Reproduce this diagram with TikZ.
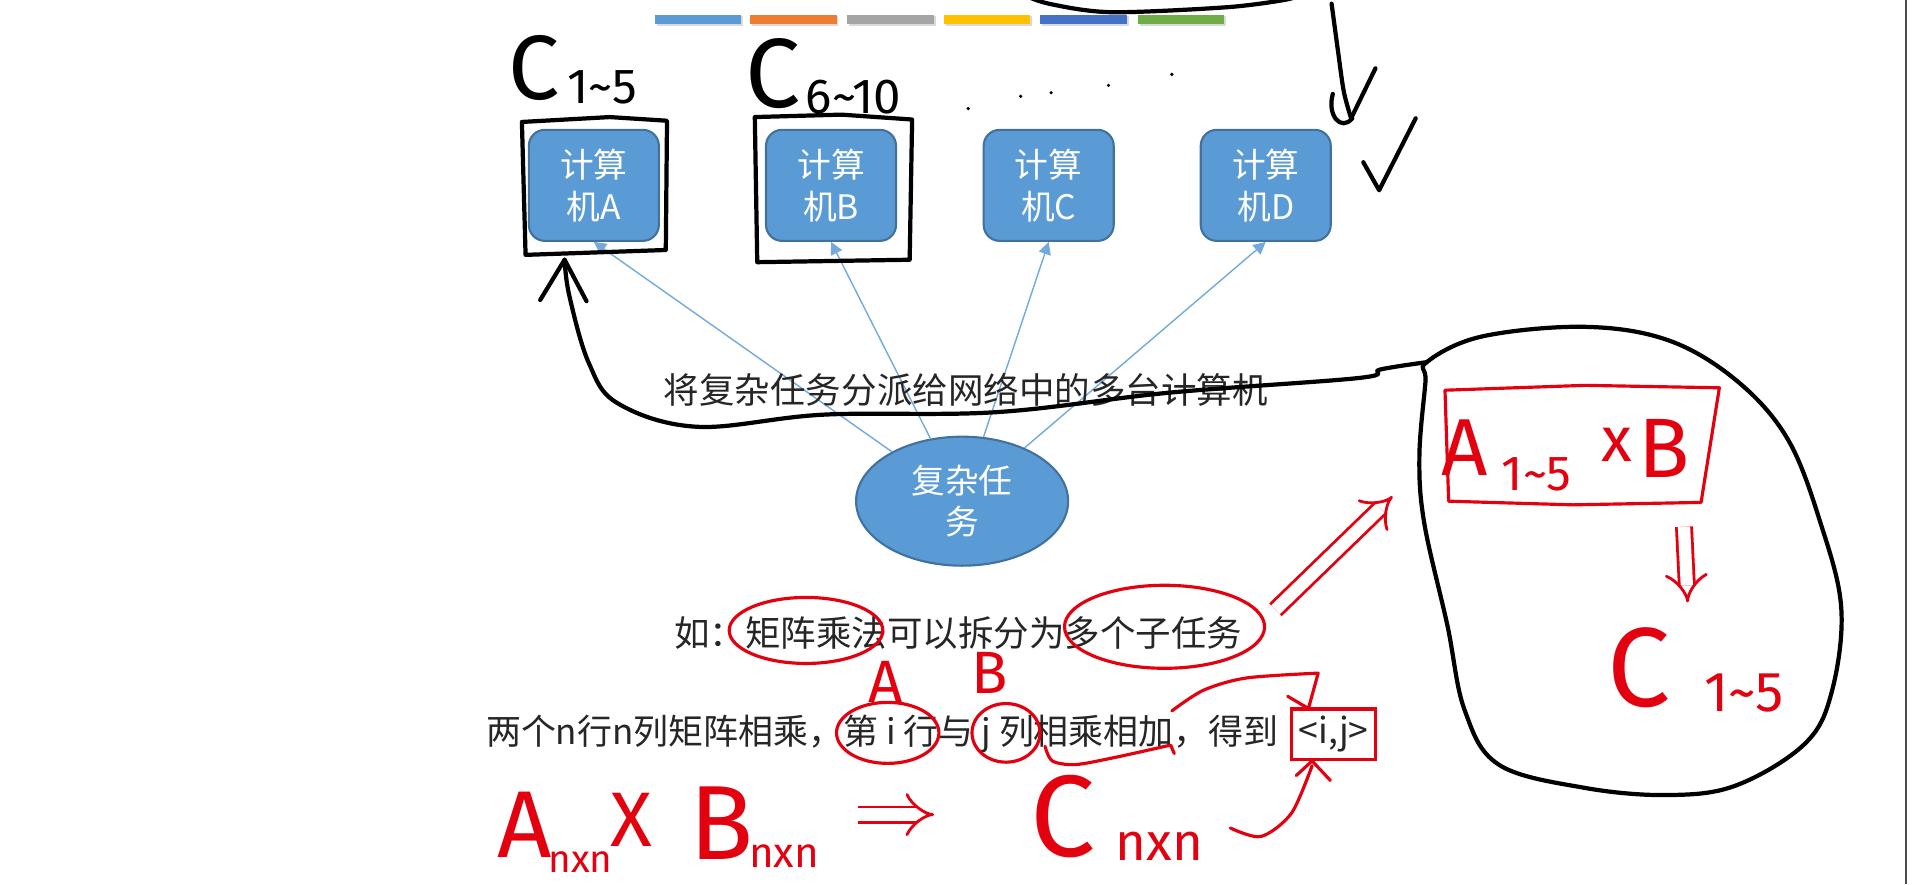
\documentclass[tikz,border=0pt]{standalone}
\usepackage{xcolor}
\usepackage{tikz}
\usetikzlibrary{positioning,shapes.geometric,arrows.meta}
\usepackage{fontspec}
\newfontfamily\cjk{Noto Sans CJK SC}
\newfontfamily\handfont{Fira Sans}
\newcommand{\hw}[1]{\handfont\fontsize{#1}{#1}\selectfont}

\definecolor{pcfill}{HTML}{5B9BD5}
\definecolor{pcedge}{HTML}{41719C}
\definecolor{inkred}{HTML}{E3000F}
\definecolor{txtgray}{HTML}{262626}
\definecolor{barorange}{HTML}{ED7D31}
\definecolor{bargray}{HTML}{A5A5A5}
\definecolor{baryellow}{HTML}{FFC000}
\definecolor{bardark}{HTML}{4472C4}
\definecolor{bargreen}{HTML}{70AD47}

\begin{document}
\begin{tikzpicture}[x=0.012194cm, y=-0.012194cm,
    pc/.style={draw=pcedge, fill=pcfill, line width=0.6pt, rounded corners=0.16cm,
      minimum width=1.3cm, minimum height=1.11cm, text=white, align=center,
      font=\cjk\fontsize{9.6}{11.8}\selectfont},
    taskshape/.style={ellipse, draw=pcedge, fill=pcfill, line width=0.6pt,
      minimum width=2.12cm, minimum height=1.29cm, inner sep=1pt, text=white,
      align=center, font=\cjk\fontsize{9.6}{11.8}\selectfont},
    link/.style={draw=pcfill!85!white, line width=0.4pt, -{Triangle[length=3.5pt,width=3.5pt]}},
    note/.style={font=\cjk\fontsize{10.1}{12}\selectfont, text=txtgray, inner sep=0pt},
    ink/.style={draw=black, line width=1.2pt, line cap=round, line join=round},
    redink/.style={draw=inkred, line width=0.9pt, line cap=round, line join=round},
    redimplies/.style={draw=inkred, line width=0.8pt, double=white, double distance=3.5pt, -{Implies}},
    handblack/.style={inner sep=0pt, text=black},
    handred/.style={inner sep=0pt, text=inkred}]

    % Page and frame
    \fill[white] (0,0) rectangle (1568,725);
    \useasboundingbox (0,0) rectangle (1568,725);
    \draw[gray!60!black, line width=0.6pt] (1563,0) -- (1563,725);

    % Colour bars at the top
    \foreach \x/\c in {537/pcfill, 615/barorange, 695/bargray, 774/baryellow, 853/bardark, 933/bargreen} {
        \fill[gray!30] (\x+1.5,13.5) rectangle ++(71,8);
        \fill[\c] (\x,12) rectangle ++(71,8);
    }

    % Complex task and the computers
    \node[taskshape] (task) at (789,411) {复杂任\\务};
    \foreach \id/\x in {A/487, B/681.5, C/860, D/1038} {
        \node[pc] (pc\id) at (\x,152) {计算\\机\id};
        \draw[link] (task) -- (pc\id.south);
    }

    % Printed texts
    \node[note] (dispatch) at (792,320) {将复杂任务分派给网络中的多台计算机};
    \node[note] (example) at (786,519) {如：矩阵乘法可以拆分为多个子任务};
    \node[note, anchor=west, font=\cjk\fontsize{9.95}{12}\selectfont] (rowcol) at (398,602) {两个n行n列矩阵相乘，第 i 行与 j 列相乘相加，得到};
    \node[note, right=3pt of rowcol, draw=inkred, line width=0.9pt, inner sep=2pt] (ij) {<i,j>};

    % Black handwriting at the top
    \node[handblack, font=\hw{26}] (cfirst) at (438,56) {C};
    \node[handblack, font=\hw{14}] (cfirstsub) at (494,72) {1\textasciitilde5};
    \node[handblack, font=\hw{28}] (csecond) at (634,60) {C};
    \node[handblack, font=\hw{14}] (csecondsub) at (700,80) {6\textasciitilde10};
    \foreach \p in {(794,89), (837,79), (862,76), (909,70), (961,61)} {
        \fill \p circle (0.018cm);
    }
    \draw[ink] (428,100) -- (500,96) -- (547,99) -- (546,205) -- (431,209) -- cycle;
    \draw[ink] (619,96) -- (690,94) -- (748,98) -- (746,213) -- (621,215) -- cycle;
    \draw[ink] plot[smooth] coordinates {(835,-6) (860,3) (911,10) (1005,6) (1053,0) (1070,-5)};
    \draw[ink] plot[smooth] coordinates {(1092,3) (1097,40) (1102,75) (1108,97)};
    \draw[ink] (1128,56) -- (1108,97);
    \draw[ink] (1093,77) .. controls (1088,95) and (1100,108) .. (1109,97);
    \draw[ink] (1118,133) -- (1131,156) -- (1161,97);

    % Black loop and the arrow back to computer A
    \draw[ink] plot[smooth cycle, tension=0.6] coordinates {(1170,297) (1215,276) (1299,268)
        (1368,279) (1424,312) (1466,360) (1493,429) (1510,499) (1502,568) (1480,610)
        (1424,644) (1368,652) (1299,646) (1229,627) (1201,582) (1187,513) (1168,429)
        (1164,374) (1169,313)};
    \draw[ink] plot[smooth, tension=0.6] coordinates {(1170,297) (1132,303) (1114,310)
        (959,322) (817,338) (676,340) (572,350) (507,331) (483,298) (467,243) (463,213)};
    \draw[ink] (443,246) -- (463,213) -- (481,247);

    % Red notes inside the loop
    \draw[redink] (1185,320) -- (1300,316) -- (1410,318) -- (1395,412) -- (1290,414) -- (1188,411) -- cycle;
    \node[handred, font=\hw{23}] (asub) at (1201,367) {A};
    \node[handred, font=\hw{14}] (asubidx) at (1260,389) {1\textasciitilde5};
    \node[handred, font=\hw{18}] (atimes) at (1326,365) {x};
    \node[handred, font=\hw{24}] (bsub) at (1365,368) {B};
    \draw[redimplies] (1381,432) -- (1384,494);
    \node[handred, font=\hw{32}] (csub) at (1344,548) {C};
    \node[handred, font=\hw{16}] (csubidx) at (1430,568) {1\textasciitilde5};

    % Red marks on the printed texts
    \draw[redink] (661,517) ellipse [x radius=0.768cm, y radius=0.33cm];
    \draw[redink] (955,514) ellipse [x radius=1.0cm, y radius=0.415cm];
    \draw[redink] (728,601) ellipse [x radius=0.512cm, y radius=0.305cm];
    \draw[redink] (825,601) ellipse [x radius=0.34cm, y radius=0.293cm];
    \draw[redimplies] (1046,500) -- (1142,407);
    \node[handred, font=\hw{17}] (rowa) at (726,559) {A};
    \node[handred, font=\hw{17}] (colb) at (812,552) {B};
    \draw[redink] plot[smooth] coordinates {(857,612) (863,624) (882,627) (915,621) (960,611)} -- (963,618);
    \draw[redink] plot[smooth] coordinates {(961,583) (987,566) (1022,556) (1081,552)} -- (1073,581) -- (1056,571);

    % Red formula at the bottom
    \node[handred, font=\hw{27}] (bigA) at (430,676) {A};
    \node[handred, font=\hw{11}] (bigAsub) at (476,707) {nxn};
    \node[handred, font=\hw{22}] (bigX) at (518,672) {X};
    \node[handred, font=\hw{30}] (bigB) at (592,675) {B};
    \node[handred, font=\hw{12}] (bigBsub) at (643,702) {nxn};
    \draw[redimplies] (704,668) -- (766,668);
    \node[handred, font=\hw{33}] (bigC) at (872,670) {C};
    \node[handred, font=\hw{15}] (bigCsub) at (951,694) {nxn};
    \draw[redink] plot[smooth] coordinates {(1009,679) (1034,686) (1059,667) (1076,628)};
    \draw[redink] (1063,636) -- (1076,624) -- (1091,640);
\end{tikzpicture}
\end{document}
